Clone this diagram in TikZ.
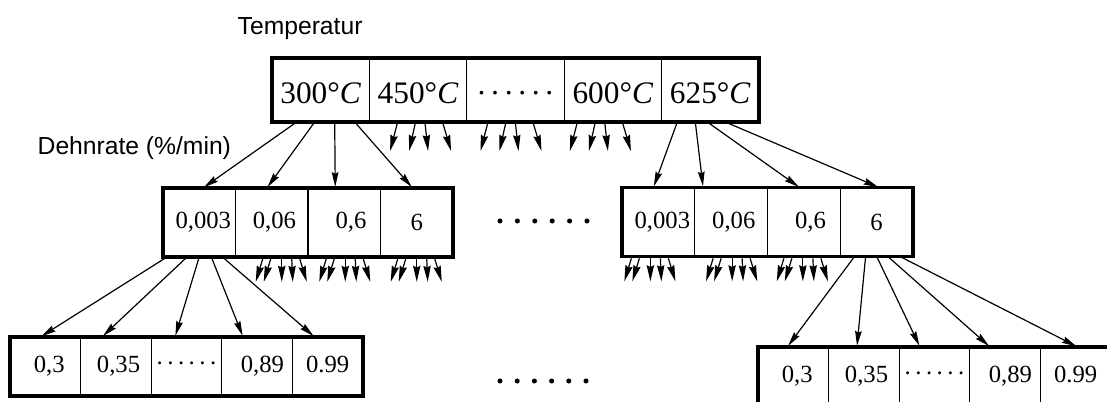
\documentclass[tikz,border=0pt]{standalone}
\usepackage{fontspec}
\setmainfont{Liberation Serif}
\newfontfamily\labelsans{Liberation Sans}
\usetikzlibrary{calc,arrows.meta}

\newcommand{\dotrow}{·\kern.1em·\kern.1em·\kern.1em·\kern.1em·\kern.1em·}

\tikzset{
  cell/.style={draw, line width=1pt, inner sep=0pt, outer sep=0pt},
  tcell/.style={cell, minimum width=73.05pt, minimum height=48pt, text height=21pt,
    font=\fontsize{23.5}{26}\selectfont},
  mcell/.style={cell, minimum width=54.5pt, minimum height=51.5pt, font=\fontsize{18.5}{20}\selectfont},
  bcell/.style={cell, minimum width=52.95pt, minimum height=44.25pt, font=\fontsize{18.5}{20}\selectfont},
  boxframe/.style={line width=2.6pt},
  arr/.style={line width=0.9pt, -{Stealth[length=11pt,width=5pt,inset=1.2pt]}, shorten >=1pt},
  stub/.style={line width=0.9pt, -{Stealth[length=12pt,width=5.5pt,inset=1.2pt]}},
  axislabel/.style={anchor=base west, font=\labelsans\fontsize{18.5}{20}\selectfont}
}

\begin{document}
\begin{tikzpicture}[x=0.75pt, y=-0.75pt]
    \useasboundingbox (0,0) rectangle (1107,402);
    \clip (0,0) rectangle (1107,402);

    \node[axislabel] (temp) at (233,35) {Temperatur};
    \node[axislabel] (rate) at (33,155) {Dehnrate (\%/min)};

    % temperatures
    \foreach \lab [count=\i] in {300°\textit{C}, 450°\textit{C}, \dotrow, 600°\textit{C}, 625°\textit{C}}
        \node[tcell] (t\i) at (272+97.4*\i-48.7, 90) {\lab};
    \draw[boxframe] (t1.north west) rectangle (t5.south east);

    % strain rates
    \foreach \lab [count=\i] in {{\kern6pt0,003},{\kern4pt0,06},{\kern10pt0,6},{\raisebox{-3pt}{6}}} {
        \node[mcell] (m\i) at (163+72.5*\i-36.25, 222.5) {\lab};
        \node[mcell] (r\i) at (622+72.75*\i-36.375, 222) {\lab};
    }
    \draw[boxframe] (m1.north west) rectangle (m4.south east);
    \draw[boxframe] (r1.north west) rectangle (r4.south east);

    \foreach \lab [count=\i] in {{\kern6pt0,3},{\kern4pt0,35},\dotrow,{\kern8pt0,89},{\raisebox{3pt}{0.99}}} {
        \node[bcell] (b\i) at (10+70.6*\i-35.3, 366.5) {\lab};
        \node[bcell] (c\i) at (758+70.6*\i-35.3, 376.5) {\lab};
    }
    \draw[boxframe] (b1.north west) rectangle (b5.south east);
    \draw[boxframe] (c1.north west) rectangle (c5.south east);

    % branches
    \foreach \s/\e/\n in {-24/3.5/1, -6/-5/2, 14/-9/3, 34/-4/4}
        \draw[arr] ($(t1.south)+(\s,0)$) -- ($(m\n.north)+(\e,0)$);
    \foreach \s/\e/\n in {-33/-5/1, -15/-28/2, -3/-4/3, 15/3/4}
        \draw[arr] ($(t5.south)+(\s,0)$) -- ($(r\n.north)+(\e,0)$);
    \foreach \s/\e/\n in {-32/-5/1, -12/-14/2, 0/-11.5/3, 12/-14/4, 23/-13/5}
        \draw[arr] ($(m1.south)+(\s,0)$) -- ($(b\n.north)+(\e,0)$);
    \foreach \s/\e/\n in {-22/-6/1, -11/-7/2, 0/-14.5/3, 11/-15/4, 23/2/5}
        \draw[arr] ($(r4.south)+(\s,0)$) -- ($(c\n.north)+(\e,0)$);

    % short fans
    \foreach \c/\sh in {t2/2, t3/-5, t4/-13}
        \foreach \s/\d in {-23/-7, -5/-6, 5/3, 23/8}
            \draw[stub] ($(\c.south)+({\s+\sh},2)$) -- ++(\d,27);
    \foreach \c/\sh in {m2/10, m3/1, m4/0, r1/-8, r2/1, r3/-1}
        \foreach \s/\d in {-19/-7, -11/-7, 0/0, 10/1, 18/7}
            \draw[stub] ($(\c.south)+({\s+\sh},2)$) -- ++(\d,23);

    \foreach \k in {0,...,5} {
        \fill (500+17.4*\k, 221) circle[radius=1.9pt];
        \fill (500+17.2*\k, 381) circle[radius=1.9pt];
    }
\end{tikzpicture}
\end{document}
